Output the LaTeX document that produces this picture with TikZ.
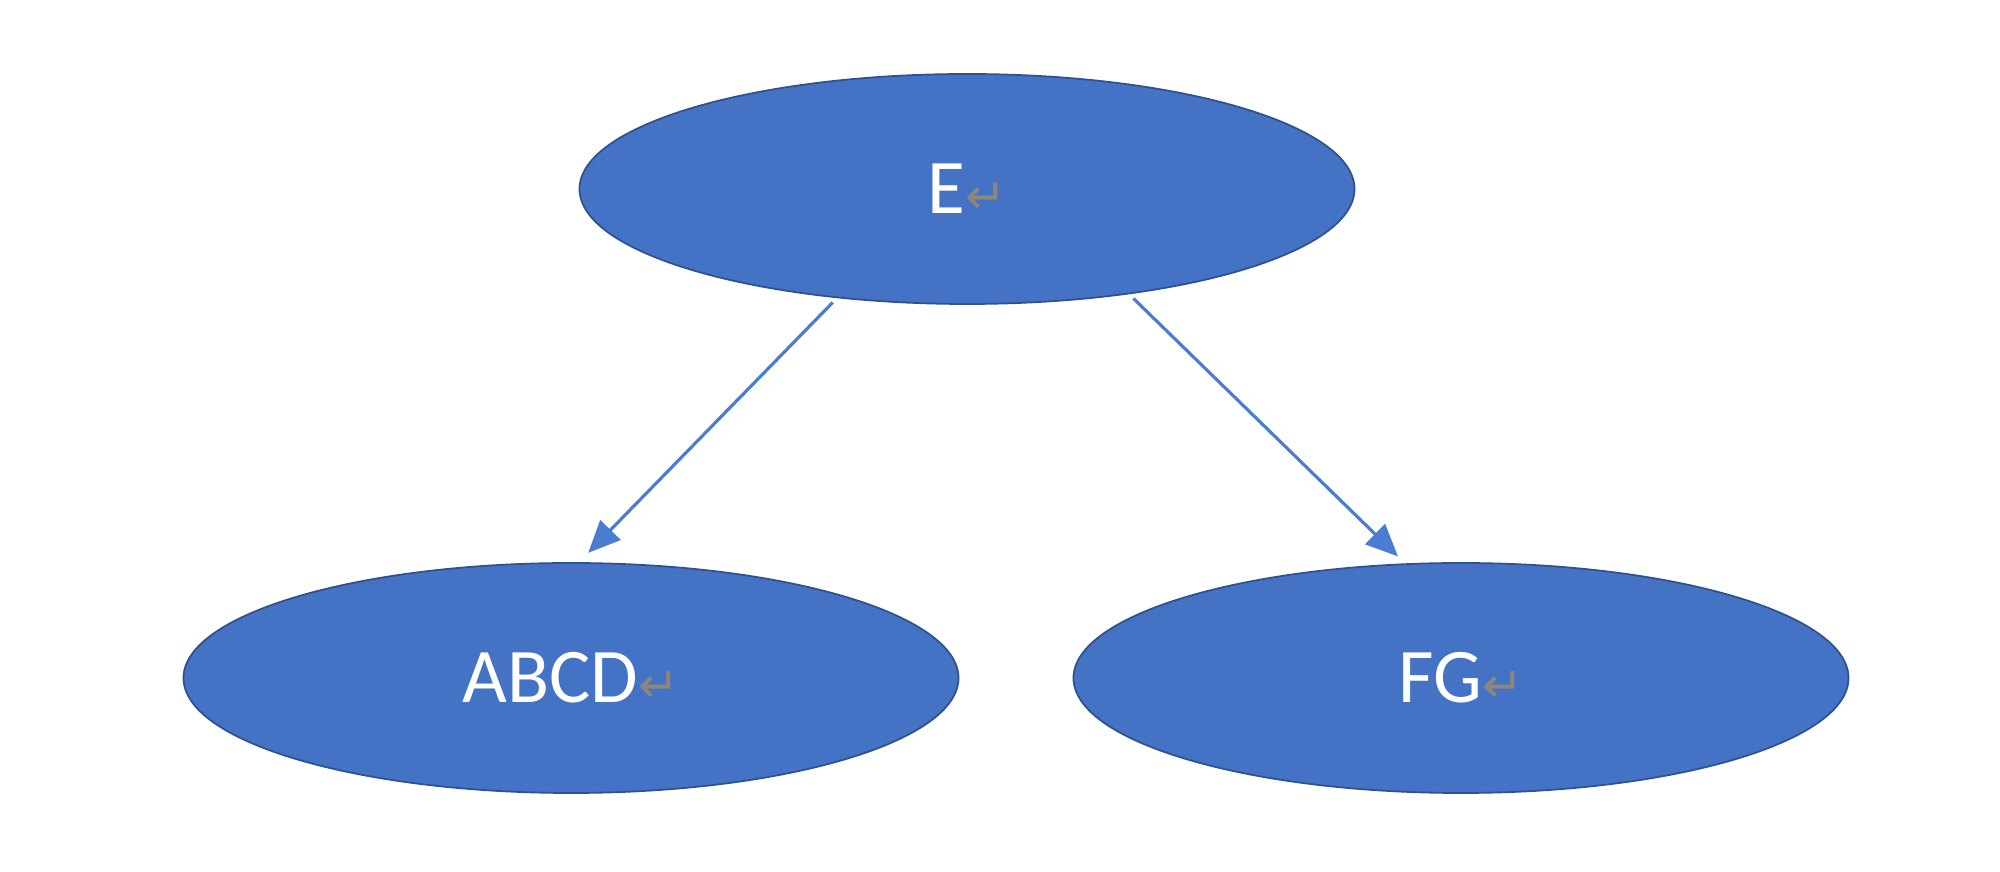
\documentclass[tikz,border=0pt]{standalone}
\usepackage{fontspec}
\setmainfont{Carlito}
\newfontfamily\markfont{DejaVu Sans}
\usetikzlibrary{arrows.meta,shapes.geometric}
\definecolor{nodec}{RGB}{68,114,196}
\definecolor{edgec}{RGB}{47,82,143}
\definecolor{linkc}{RGB}{74,125,210}
\definecolor{markc}{RGB}{140,135,125}
\newcommand{\pmark}{{\markfont\fontsize{14}{16}\selectfont\color{markc}↵}}
\tikzset{
  blob/.style={ellipse, draw=edgec, line width=0.5pt, fill=nodec, minimum width=7.75cm, minimum height=2.3cm, inner sep=0pt, text=white, font=\fontsize{22}{26}\selectfont},
  flow/.style={-{Triangle[length=3.2mm,width=2.8mm]}, line width=0.9pt, linkc, shorten <=0.6mm}
}
\begin{document}
\begin{tikzpicture}
  \useasboundingbox (0,0) rectangle (20,8.72);
  % ---- root ----
  \node[blob] (e) at (9.67,6.83) {E\pmark};
  % ---- children ----
  \node[blob] (abcd) at (5.71,1.94) {ABCD\pmark};
  \node[blob] (fg) at (14.61,1.94) {FG\pmark};

  % flows
  \draw[flow, shorten >=1.3mm] (e.220) -- (abcd.86);
  \draw[flow, shorten >=1mm] (e.327) -- (fg.116);
\end{tikzpicture}
\end{document}
